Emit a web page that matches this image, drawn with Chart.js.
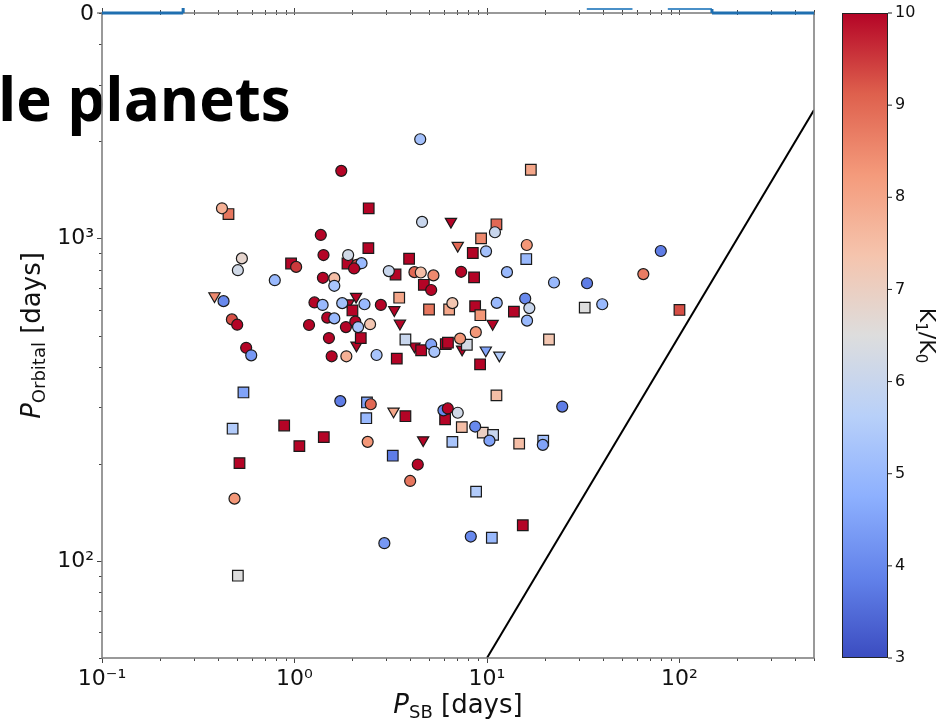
<!DOCTYPE html>
<html>
<head>
<meta charset="utf-8">
<script src="https://cdn.jsdelivr.net/npm/chart.js@4.4.1/dist/chart.umd.min.js"></script>
<style>
  html, body { margin: 0; padding: 0; background: #fff; }
</style>
</head>
<body>
<canvas id="psb" width="938" height="727"></canvas>
<script>
  // circles: P_SB, P_orbital, K1/K0
  const circX = [4.5, 1.75, 0.42, 4.6, 1.37, 0.533, 0.508, 0.79, 1.415, 1.02, 1.9, 2.11, 2.23, 2.04, 3.09, 4.2, 4.53, 5.27, 7.34, 1.405,
    1.61, 1.61, 5.13, 0.428, 1.27, 1.4, 1.77, 2.31, 2.81, 6.61, 0.473, 0.504, 1.19, 1.48, 1.61, 1.85, 2.07, 2.14, 2.47, 1.51,
    5.13, 5.33, 0.561, 0.596, 1.56, 1.86, 2.67, 11.0, 9.89, 16.1, 12.7, 22.3, 33.1, 64.9, 80, 11.24, 15.8, 16.6, 16.15, 39.7,
    8.75, 7.25, 1.73, 2.49, 5.94, 6.26, 2.4, 4.37, 3.99, 0.488, 2.93, 24.6, 7.05, 8.68, 10.3, 19.5, 8.24]
  const circY = [2030, 1620, 1240, 1125, 1025, 867, 797, 742, 888, 816, 888, 828, 838, 807, 792, 786, 784, 768, 788, 755,
    753, 713, 692, 639, 633, 622, 630, 625, 622, 630, 561, 540, 539, 568, 565, 531, 552, 531, 542, 491,
    469, 445, 458, 434, 431, 431, 435, 1045, 912, 954, 786, 730, 726, 775, 914, 631, 651, 608, 556, 625,
    512, 489, 313, 306, 293, 297, 234, 199, 177, 156, 113.5, 301, 288, 261, 236, 229, 119]
  const circK = [5.2, 10, 7.8, 6, 10, 6.8, 6.2, 5, 10, 9.5, 6.2, 9.3, 5, 10, 6, 9, 7.5, 8.5, 10, 10,
    7.5, 5.3, 10, 4, 10, 5, 5.2, 5, 10, 7.3, 9.3, 10, 10, 10, 5, 10, 10, 5.3, 7.3, 10,
    4.5, 5.3, 10, 4.3, 10, 7.8, 5.3, 6, 5.2, 8.3, 5, 5, 3.8, 8.7, 3.8, 5, 4, 6, 5, 5,
    8.3, 8.3, 3.8, 9, 4, 10, 8.3, 10, 8.8, 8.3, 4.3, 3.8, 6.2, 4, 4.5, 4.5, 4]

  // squares
  const sqX = [0.454, 2.43, 2.42, 0.96, 1.885, 3.94, 3.35, 4.7, 2.0, 3.5, 5.0, 6.36, 2.21, 3.77, 4.55, 6.11, 6.27, 3.4, 0.543, 16.9,
    11.2, 9.32, 8.44, 16.0, 8.57, 8.68, 9.24, 13.8, 32.2, 100, 21.0, 7.86, 9.21, 2.38, 2.36, 3.77, 6.61, 6.06, 0.477, 0.884,
    1.06, 1.42, 3.24, 0.518, 0.508, 11.2, 7.4, 9.51, 10.76, 14.7, 19.6, 8.78, 15.35, 10.6]
  const sqY = [1190, 1240, 933, 836, 836, 865, 773, 718, 598, 655, 602, 602, 491, 486, 450, 470, 475, 424, 333, 1633,
    1106, 1000, 901, 863, 757, 616, 578, 593, 610, 600, 486, 468, 407, 310, 277, 281, 234, 275, 257, 263,
    227, 242, 212, 201, 90, 326, 260, 250, 246, 231, 236, 164, 129, 118]
  const sqK = [8.8, 10, 10, 10, 10, 10, 10, 10, 10, 8, 8.8, 8, 10, 6, 10, 10, 10, 10, 4.5, 8,
    9, 8.5, 10, 5, 10, 10, 8.3, 10, 6.5, 9.3, 7.3, 6.3, 10, 4.5, 5, 10, 5.3, 10, 5.5, 10,
    10, 10, 3.8, 10, 6.5, 7.5, 7.5, 7, 6, 7.5, 5.2, 5.5, 10, 5]

  // downward triangles
  const triX = [6.5, 7.05, 0.384, 1.91, 2.09, 3.3, 3.53, 2.1, 4.2, 10.7, 7.43, 9.86, 11.6, 3.27, 4.66]
  const triY = [1127, 950, 663, 630, 660, 600, 545, 466, 463, 544, 453, 450, 434, 291, 237]
  const triK = [10, 9, 8.5, 10, 10, 10, 10, 10, 10, 10, 10, 4.5, 5.5, 8, 10]

  // P_orb = 5 P_SB
  const lineX = [10, 500]
  const lineY = [50, 2500]

  const xMajor = [0.1, 1, 10, 100]
  const xMajorLabels = ['10⁻¹', '10⁰', '10¹', '10²']
  const yMajor = [100, 1000]
  const yMajorLabels = ['10²', '10³']
  const cbTicks = [3, 4, 5, 6, 7, 8, 9, 10]

  // bits of the histogram panel above (cut off)
  const histBase = [[0.1, 0.264], [147.5, 500]]
  const histBars = [[33, 57], [87, 147.5]]

  // coolwarm
  const cwStops = [
    [0.0, [59, 76, 192]], [0.125, [98, 130, 234]], [0.25, [141, 176, 254]],
    [0.375, [184, 208, 249]], [0.5, [221, 221, 221]], [0.625, [245, 196, 173]],
    [0.75, [244, 154, 123]], [0.875, [222, 96, 77]], [1.0, [180, 4, 38]]
  ]
  function coolwarm(k) {
    let t = Math.min(1, Math.max(0, (k - 3) / 7))
    for (let i = 1; i < cwStops.length; i++) {
      if (t <= cwStops[i][0]) {
        const [t0, c0] = cwStops[i - 1]
        const [t1, c1] = cwStops[i]
        const f = (t - t0) / (t1 - t0)
        const c = c0.map((v, j) => Math.round(v + (c1[j] - v) * f))
        return 'rgb(' + c.join(',') + ')'
      }
    }
    return 'rgb(180,4,38)'
  }

  function logTicks(min, max) {
    const out = []
    for (let e = -2; e <= 4; e++) {
      for (let m = 1; m <= 9; m++) {
        const v = +(m * Math.pow(10, e)).toPrecision(3)
        if (v >= min * 0.999 && v <= max * 1.001) out.push(v)
      }
    }
    return out
  }
  const xTicks = logTicks(0.1, 500)
  const yTicks = logTicks(50, 5000)

  const FONT = 'DejaVu Sans'

  function richText(ctx, parts, x, y) {
    let w = 0
    parts.forEach(p => { ctx.font = p.font; w += ctx.measureText(p.t).width })
    let cx = x - w / 2
    parts.forEach(p => {
      ctx.font = p.font
      ctx.fillText(p.t, cx, y + (p.dy || 0))
      cx += ctx.measureText(p.t).width
    })
  }

  const extras = {
    id: 'extras',
    afterDraw(chart) {
      const { ctx, chartArea: a, scales: { x, y } } = chart
      ctx.save()

      // slide title fragment behind the plot frame
      ctx.fillStyle = '#000'
      ctx.textAlign = 'left'
      ctx.textBaseline = 'alphabetic'
      ctx.font = '700 60px "Open Sans"'
      ctx.fillText('le planets', -2, 121)

      // tick marks
      ctx.strokeStyle = '#444'
      ctx.lineWidth = 1
      ctx.beginPath()
      xTicks.forEach(v => {
        const px = Math.round(x.getPixelForValue(v)) + 0.5
        const len = xMajor.includes(v) ? 5 : 3
        ctx.moveTo(px, a.bottom); ctx.lineTo(px, a.bottom + len)
        ctx.moveTo(px, a.top - len); ctx.lineTo(px, a.top + 2)
      })
      yTicks.forEach(v => {
        const py = Math.round(y.getPixelForValue(v)) + 0.5
        const len = yMajor.includes(v) ? 5 : 3
        ctx.moveTo(a.left - len, py); ctx.lineTo(a.left, py)
      })
      ctx.moveTo(a.left - 5, a.top); ctx.lineTo(a.left, a.top)
      ctx.stroke()

      // frame
      ctx.strokeStyle = '#808080'
      ctx.lineWidth = 1.6
      ctx.strokeRect(a.left, a.top, a.right - a.left, a.bottom - a.top)

      // histogram remnants on the top edge
      ctx.strokeStyle = '#4a90c8'
      ctx.lineWidth = 2
      histBars.forEach(([x0, x1]) => {
        ctx.beginPath()
        ctx.moveTo(x.getPixelForValue(x0), a.top - 4)
        ctx.lineTo(x.getPixelForValue(x1), a.top - 4)
        ctx.stroke()
      })
      ctx.strokeStyle = '#1f6fb0'
      ctx.lineWidth = 3
      histBase.forEach(([x0, x1]) => {
        ctx.beginPath()
        ctx.moveTo(x.getPixelForValue(x0), a.top)
        ctx.lineTo(x.getPixelForValue(x1), a.top)
        ctx.stroke()
      })
      ctx.beginPath()
      ctx.moveTo(x.getPixelForValue(0.264), a.top); ctx.lineTo(x.getPixelForValue(0.264), a.top - 5)
      ctx.moveTo(x.getPixelForValue(147.5), a.top); ctx.lineTo(x.getPixelForValue(147.5), a.top - 4)
      ctx.stroke()

      // "0" of the upper panel
      ctx.fillStyle = '#111'
      ctx.font = '22px "' + FONT + '"'
      ctx.textAlign = 'right'
      ctx.textBaseline = 'middle'
      ctx.fillText('0', a.left - 8, a.top + 1)

      // axis titles
      ctx.textAlign = 'left'
      ctx.textBaseline = 'alphabetic'
      richText(ctx, [
        { t: 'P', font: 'italic 26px "' + FONT + '"' },
        { t: 'SB', font: '18px "' + FONT + '"', dy: 5 },
        { t: ' [days]', font: '26px "' + FONT + '"' }
      ], (a.left + a.right) / 2, 713)

      ctx.save()
      ctx.translate(40, (a.top + a.bottom) / 2)
      ctx.rotate(-Math.PI / 2)
      richText(ctx, [
        { t: 'P', font: 'italic 26px "' + FONT + '"' },
        { t: 'Orbital', font: '18px "' + FONT + '"', dy: 5 },
        { t: ' [days]', font: '26px "' + FONT + '"' }
      ], 0, 0)
      ctx.restore()

      // colorbar
      const cbL = a.right + 28, cbW = 46
      const grad = ctx.createLinearGradient(0, a.bottom, 0, a.top)
      cwStops.forEach(([t, c]) => grad.addColorStop(t, 'rgb(' + c.join(',') + ')'))
      ctx.fillStyle = grad
      ctx.fillRect(cbL, a.top, cbW, a.bottom - a.top)
      ctx.strokeStyle = '#222'
      ctx.lineWidth = 1
      ctx.strokeRect(cbL + 0.5, a.top + 0.5, cbW - 1, a.bottom - a.top - 1)
      ctx.fillStyle = '#111'
      ctx.font = '16px "' + FONT + '"'
      ctx.textAlign = 'left'
      ctx.textBaseline = 'middle'
      cbTicks.forEach(k => {
        const py = a.bottom - (k - 3) / 7 * (a.bottom - a.top)
        ctx.beginPath()
        ctx.moveTo(cbL + cbW, py); ctx.lineTo(cbL + cbW + 4, py)
        ctx.stroke()
        ctx.fillText(String(k), cbL + cbW + 7, py)
      })
      ctx.save()
      ctx.translate(cbL + cbW + 32, (a.top + a.bottom) / 2)
      ctx.rotate(Math.PI / 2)
      ctx.textBaseline = 'alphabetic'
      richText(ctx, [
        { t: 'K', font: '22px "' + FONT + '"' },
        { t: '1', font: '15px "' + FONT + '"', dy: 4 },
        { t: '/K', font: '22px "' + FONT + '"' },
        { t: '0', font: '15px "' + FONT + '"', dy: 4 }
      ], 0, 0)
      ctx.restore()

      ctx.restore()
    }
  }

  const pts = (xs, ys) => xs.map((v, i) => ({ x: v, y: ys[i] }))
  const noPad = s => { s.paddingTop = 0; s.paddingBottom = 0; s.paddingLeft = 0; s.paddingRight = 0 }

  new Chart(document.getElementById('psb'), {
    type: 'scatter',
    data: {
      datasets: [
        {
          label: 'circles',
          data: pts(circX, circY),
          pointStyle: 'circle',
          pointRadius: 5.5,
          backgroundColor: circK.map(coolwarm),
          borderColor: '#1a1a1a',
          borderWidth: 1.2
        },
        {
          label: 'squares',
          data: pts(sqX, sqY),
          pointStyle: 'rect',
          pointRadius: 7.5,
          backgroundColor: sqK.map(coolwarm),
          borderColor: '#1a1a1a',
          borderWidth: 1.2
        },
        {
          label: 'triangles',
          data: pts(triX, triY),
          pointStyle: 'triangle',
          rotation: 180,
          pointRadius: 6.5,
          backgroundColor: triK.map(coolwarm),
          borderColor: '#1a1a1a',
          borderWidth: 1.2
        },
        {
          type: 'line',
          label: 'limit',
          data: pts(lineX, lineY),
          borderColor: '#000',
          borderWidth: 2,
          pointRadius: 0,
          fill: false
        }
      ]
    },
    options: {
      responsive: false,
      animation: false,
      devicePixelRatio: 1,
      layout: { padding: { left: 0, right: 124, top: 13, bottom: 0 } },
      plugins: { legend: { display: false }, tooltip: { enabled: false } },
      scales: {
        x: {
          type: 'logarithmic',
          min: 0.1,
          max: 500,
          afterBuildTicks: s => { s.ticks = xTicks.map(v => ({ value: v })) },
          afterFit: s => { s.height = 69; noPad(s) },
          grid: { display: false, drawTicks: false },
          border: { display: false },
          ticks: {
            autoSkip: false,
            maxRotation: 0,
            padding: 8,
            color: '#111',
            font: { family: FONT, size: 22 },
            callback: v => { const i = xMajor.indexOf(v); return i >= 0 ? xMajorLabels[i] : '' }
          }
        },
        y: {
          type: 'logarithmic',
          min: 50,
          max: 5000,
          afterBuildTicks: s => { s.ticks = yTicks.map(v => ({ value: v })) },
          afterFit: s => { s.width = 102; noPad(s) },
          grid: { display: false, drawTicks: false },
          border: { display: false },
          ticks: {
            autoSkip: false,
            padding: 8,
            color: '#111',
            font: { family: FONT, size: 22 },
            callback: v => { const i = yMajor.indexOf(v); return i >= 0 ? yMajorLabels[i] : '' }
          }
        }
      }
    },
    plugins: [extras]
  })
</script>
</body>
</html>
